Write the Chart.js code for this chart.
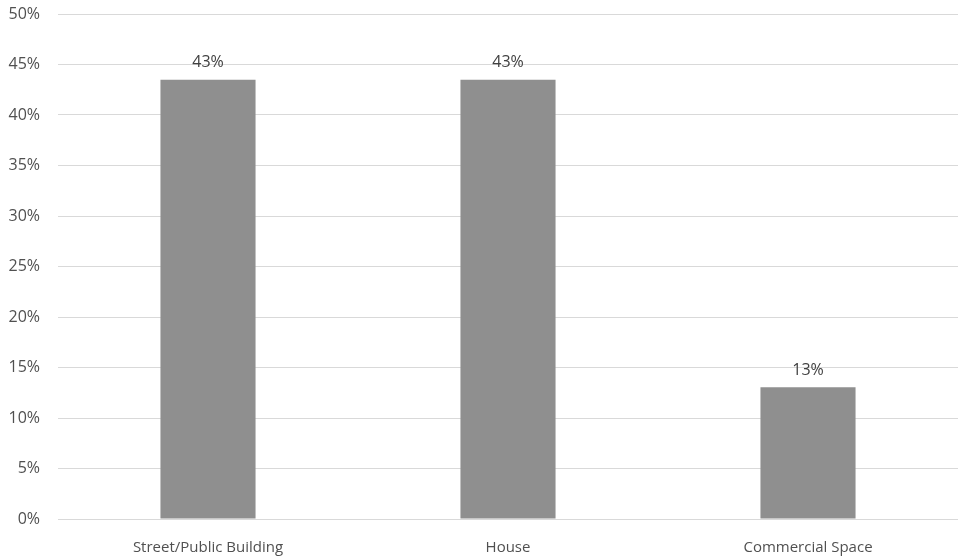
<!DOCTYPE html>
<html>
<head>
<meta charset="utf-8">
<script src="https://cdn.jsdelivr.net/npm/chart.js@4"></script>
<style>
  html, body { margin: 0; padding: 0; background: #fff; }
  #wrap { width: 958px; height: 556px; position: relative; }
</style>
</head>
<body>
<div id="wrap"><canvas id="chartPlaces"></canvas></div>
<script>
// data
var categories = ['Street/Public Building', 'House', 'Commercial Space']
var shares = [43.48, 43.48, 13.04]
var yTicks = [0, 5, 10, 15, 20, 25, 30, 35, 40, 45, 50]

var fontFamily = '"Open Sans", "Liberation Sans", sans-serif'

// value labels above the bars
var barLabels = {
  id: 'barLabels',
  afterDatasetsDraw: function (chart) {
    var ctx = chart.ctx
    var meta = chart.getDatasetMeta(0)
    ctx.save()
    ctx.font = '16px ' + fontFamily
    ctx.fillStyle = '#404040'
    ctx.textAlign = 'center'
    ctx.textBaseline = 'bottom'
    meta.data.forEach(function (bar, i) {
      ctx.fillText(Math.round(shares[i]) + '%', bar.x, bar.y - 9)
    })
    ctx.restore()
  }
}

new Chart(document.getElementById('chartPlaces').getContext('2d'), {
  type: 'bar',
  data: {
    labels: categories,
    datasets: [
      {
        data: shares,
        backgroundColor: '#8f8f8f',
        barPercentage: 0.317,
        categoryPercentage: 1
      }
    ]
  },
  options: {
    responsive: true,
    maintainAspectRatio: false,
    animation: false,
    layout: { padding: { top: 14, right: 0, bottom: 0, left: 0 } },
    plugins: {
      legend: { display: false },
      tooltip: { enabled: false }
    },
    scales: {
      x: {
        grid: { display: false },
        border: { color: '#d9d9d9', width: 1 },
        afterFit: function (axis) {
          axis.height = 37
          axis.paddingBottom = 0
        },
        ticks: {
          color: '#505050',
          font: { family: fontFamily, size: 15 },
          padding: 12,
          maxRotation: 0
        }
      },
      y: {
        min: 0,
        max: 50,
        afterBuildTicks: function (axis) {
          axis.ticks = yTicks.map(function (v) { return { value: v } })
        },
        afterFit: function (axis) {
          axis.width = 58
          axis.paddingTop = 0
          axis.paddingBottom = 0
        },
        grid: { color: '#d9d9d9', lineWidth: 1, drawTicks: false },
        border: { display: false },
        ticks: {
          color: '#505050',
          font: { family: fontFamily, size: 16 },
          padding: 18,
          callback: function (v) { return v + '%' }
        }
      }
    }
  },
  plugins: [barLabels]
})
</script>
</body>
</html>
